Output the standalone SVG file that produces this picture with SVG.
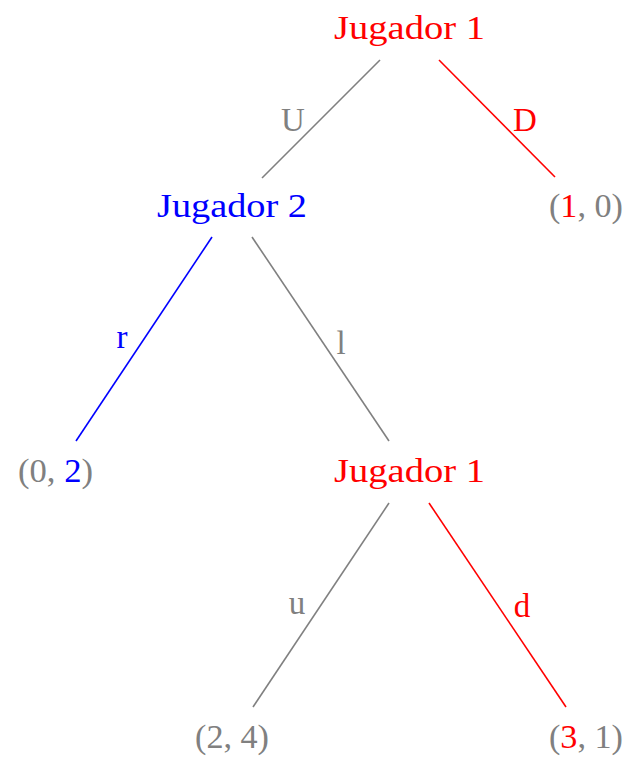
<svg xmlns="http://www.w3.org/2000/svg" width="642" height="772" viewBox="0 0 642 772">
<style>
text{font-family:"Liberation Serif","Times New Roman",serif;font-size:33px}
.g{fill:#808080}.r{fill:#ff0000}.b{fill:#0000ff}
line{stroke-width:1.6;stroke-linecap:butt}
.lg{stroke:#808080}.lr{stroke:#ff0000}.lb{stroke:#0000ff}
</style>
<rect width="642" height="772" fill="#ffffff"/>
<g id="connectors">
<line class="lg" x1="380" y1="60" x2="262" y2="178"/>
<line class="lr" x1="439" y1="60" x2="555" y2="177"/>
<line class="lb" x1="212" y1="237" x2="76" y2="441"/>
<line class="lg" x1="252" y1="237" x2="389" y2="441"/>
<line class="lg" x1="389" y1="503" x2="253" y2="707"/>
<line class="lr" x1="429" y1="503" x2="566" y2="707"/>
<text class="g" x="293" y="131" text-anchor="middle">U</text>
<text class="r" x="525" y="131" text-anchor="middle">D</text>
<text class="b" x="122" y="348" text-anchor="middle">r</text>
<text class="g" x="341" y="354" text-anchor="middle">l</text>
<text class="g" x="297" y="614" text-anchor="middle">u</text>
<text class="r" x="522" y="617" text-anchor="middle">d</text>
</g>
<g id="n1"><text class="r" x="334" y="39" textLength="151" lengthAdjust="spacingAndGlyphs">Jugador 1</text></g>
<g id="n2"><text class="b" x="157" y="217" textLength="150" lengthAdjust="spacingAndGlyphs">Jugador 2</text></g>
<g id="n3"><text class="r" x="334" y="482" textLength="151" lengthAdjust="spacingAndGlyphs">Jugador 1</text></g>
<g id="leaf10"><text class="g" x="549" y="217" textLength="74" lengthAdjust="spacingAndGlyphs">(<tspan class="r">1</tspan>, 0)</text></g>
<g id="leaf02"><text class="g" x="18" y="482" textLength="75" lengthAdjust="spacingAndGlyphs">(0, <tspan class="b">2</tspan>)</text></g>
<g id="leaf24"><text class="g" x="195" y="748" textLength="74" lengthAdjust="spacingAndGlyphs">(2, 4)</text></g>
<g id="leaf31"><text class="g" x="549" y="748" textLength="74" lengthAdjust="spacingAndGlyphs">(<tspan class="r">3</tspan>, 1)</text></g>
</svg>
